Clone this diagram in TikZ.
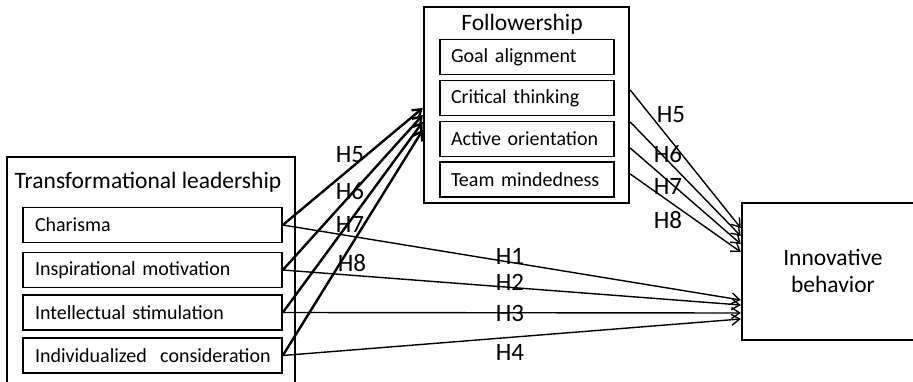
\documentclass[tikz,border=0pt]{standalone}
\usepackage{fontspec}
\setmainfont{Carlito}
\usetikzlibrary{arrows.meta, positioning}

\begin{document}
\begin{tikzpicture}[x=1pt, y=-1pt, >={Straight Barb[length=8pt,width=11pt]},
  frame/.style={draw, line width=2.4pt, inner sep=0pt},
  item/.style={draw, line width=1.6pt, inner ysep=0pt, minimum height=35pt, align=left,
    font=\fontsize{20}{22}\selectfont},
  title/.style={font=\fontsize{23.5}{27}\selectfont},
  path thin/.style={->, line width=1.4pt},
  path thick/.style={->, line width=2.4pt},
  hyp/.style={font=\fontsize{25}{27}\selectfont, inner sep=0pt}]
  \path[use as bounding box, clip] (0,0) rectangle (913,382);

  % Transformational leadership
  \node[frame, minimum width=288pt, minimum height=240pt] (tl) at (151,277) {};
  \node[title] (tltitle) at (148,182) {Transformational leadership};
  \node[item, text width=235pt, inner xsep=12pt] (cha) at (152.5,225) {Charisma};
  \node[item, text width=235pt, inner xsep=12pt] (ins) at (152.5,270) {Inspirational motivation};
  \node[item, text width=235pt, inner xsep=12pt] (int) at (152.5,312.5) {Intellectual stimulation};
  \node[item, text width=235pt, inner xsep=12pt] (ind) at (152.5,355.5) {\mbox{Individualized\ \ consideration}};

  % Followership
  \node[frame, minimum width=205pt, minimum height=196pt] (fol) at (526.5,105) {};
  \node[title] (foltitle) at (522,24) {Followership};
  \node[item, text width=152pt, inner xsep=11pt] (goal) at (527,57) {Goal alignment};
  \node[item, text width=152pt, inner xsep=11pt] (crit) at (527,98) {Critical thinking};
  \node[item, text width=152pt, inner xsep=11pt] (act) at (527,139) {Active orientation};
  \node[item, text width=152pt, inner xsep=11pt] (team) at (527,179.5) {Team mindedness};

  % Innovative behavior
  \node[frame, minimum width=190pt, minimum height=137pt] (ib) at (837,271.5) {};
  \node[title, align=center] (ibtext) at (833,271) {Innovative\\behavior};

  % end points on the box edges
  \path (fol.west) ++(0,3) coordinate (f5) ++(0,7) coordinate (f6) ++(0,7) coordinate (f7) ++(0,8) coordinate (f8);
  \path (fol.east) ++(0,-15) coordinate (o5);
  \path (fol.east) ++(0,17) coordinate (o6);
  \path (fol.east) ++(0,43) coordinate (o7);
  \path (fol.east) ++(0,69) coordinate (o8);
  \path (ib.west) ++(0,-43.5) coordinate (b5) ++(0,8) coordinate (b6) ++(0,8) coordinate (b7) ++(0,8) coordinate (b8);
  \path (ib.west) ++(0,28.5) coordinate (b1) ++(0,5) coordinate (b2) ++(0,8) coordinate (b3) ++(0,6) coordinate (b4);

  % H5-H8: leadership -> followership
  \draw[path thick] (cha.east) -- (f5);
  \draw[path thick] (ins.east) -- (f6);
  \draw[path thick] (int.east) -- (f7);
  \draw[path thick] (ind.east) -- (f8);

  % H1-H4: leadership -> innovative behavior
  \draw[path thin] (cha.east) -- (b1);
  \draw[path thin] (ins.east) -- (b2);
  \draw[path thin] (int.east) -- (b3);
  \draw[path thin] (ind.east) -- (b4);

  % H5-H8: followership -> innovative behavior
  \draw[path thin] (o5) -- (b5);
  \draw[path thin] (o6) -- (b6);
  \draw[path thin] (o7) -- (b7);
  \draw[path thin] (o8) -- (b8);

  % hypothesis labels
  \node[hyp] (h5a) at (350,155) {H5};
  \node[hyp] (h6a) at (350,191) {H6};
  \node[hyp] (h7a) at (350,224) {H7};
  \node[hyp] (h8a) at (352,263) {H8};
  \node[hyp] (h5b) at (671,115) {H5};
  \node[hyp] (h6b) at (668,154) {H6};
  \node[hyp] (h7b) at (668,186) {H7};
  \node[hyp] (h8b) at (668,220) {H8};
  \node[hyp] (h1) at (510,256) {H1};
  \node[hyp] (h2) at (510,282) {H2};
  \node[hyp] (h3) at (510,313) {H3};
  \node[hyp] (h4) at (510,352) {H4};
\end{tikzpicture}
\end{document}
